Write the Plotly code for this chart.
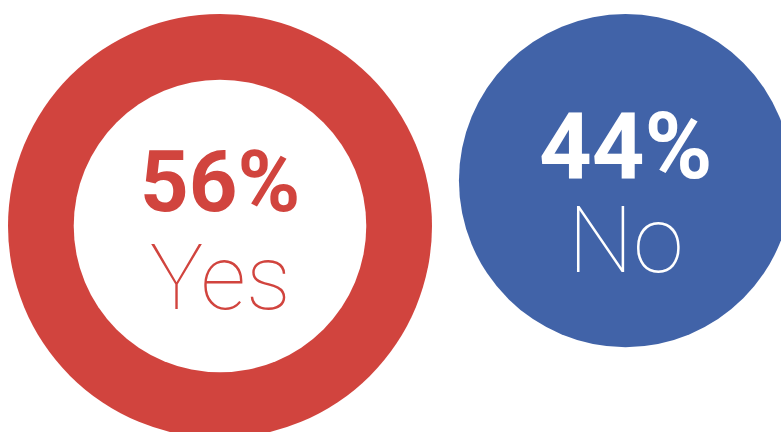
import plotly.graph_objects as go

# Data
categories = ["Yes", "No"]
values = [56, 44]            # percent
pct_labels = ["56%", "44%"]
positions = [0, 1]           # category slots on the x axis

RED = "#D1443E"
BLUE = "#4163A8"
colors = [RED, BLUE]
hole_ratio = 0.69            # inner white disc of the "Yes" ring

PX_PER_UNIT = 424 / 56       # marker diameter in px per percent point

fig = go.Figure()

# discs sized by value (diameter proportional to value)
fig.add_trace(go.Scatter(
    x=positions, y=values, mode="markers",
    marker=dict(size=values, sizemode="diameter", sizeref=1 / PX_PER_UNIT,
                color=colors, line=dict(width=0), opacity=1),
    hoverinfo="skip", cliponaxis=False, showlegend=False,
))
# white hole of the "Yes" ring
fig.add_trace(go.Scatter(
    x=[positions[0]], y=[values[0]], mode="markers",
    marker=dict(size=[values[0] * hole_ratio], sizemode="diameter", sizeref=1 / PX_PER_UNIT,
                color="white", line=dict(width=0), opacity=1),
    hoverinfo="skip", cliponaxis=False, showlegend=False,
))

text_colors = [RED, "white"]
base_sizes = [75, 72]        # sets line spacing
big_sizes = [85, 92]
small_sizes = [90, 92]
shifts = [-5, -13]
for i, cat in enumerate(categories):
    txt = (f"<span style='font-size:{big_sizes[i]}px;font-weight:700'>{pct_labels[i]}</span><br>"
           f"<span style='font-size:{small_sizes[i]}px;font-weight:100'>{cat}</span>")
    fig.add_annotation(x=positions[i], y=values[i], xref="x", yref="y",
                       text=txt, showarrow=False, yshift=shifts[i],
                       font=dict(family="Roboto", size=base_sizes[i], color=text_colors[i]))

# axis ranges so that slot 0 -> 220px, slot 1 -> 625px, discs top aligned at ~14px
x0 = -220 / 405.5
fig.update_xaxes(range=[x0, x0 + 781 / 405.5], visible=False, fixedrange=True)
half = PX_PER_UNIT / 2
y_top = 56 - (14 + 56 * half) / half
fig.update_yaxes(range=[y_top + 432 / half, y_top], visible=False, fixedrange=True)

fig.update_layout(
    width=781, height=432, margin=dict(l=0, r=0, t=0, b=0),
    paper_bgcolor="white", plot_bgcolor="white",
)
fig.write_html("out.html")
